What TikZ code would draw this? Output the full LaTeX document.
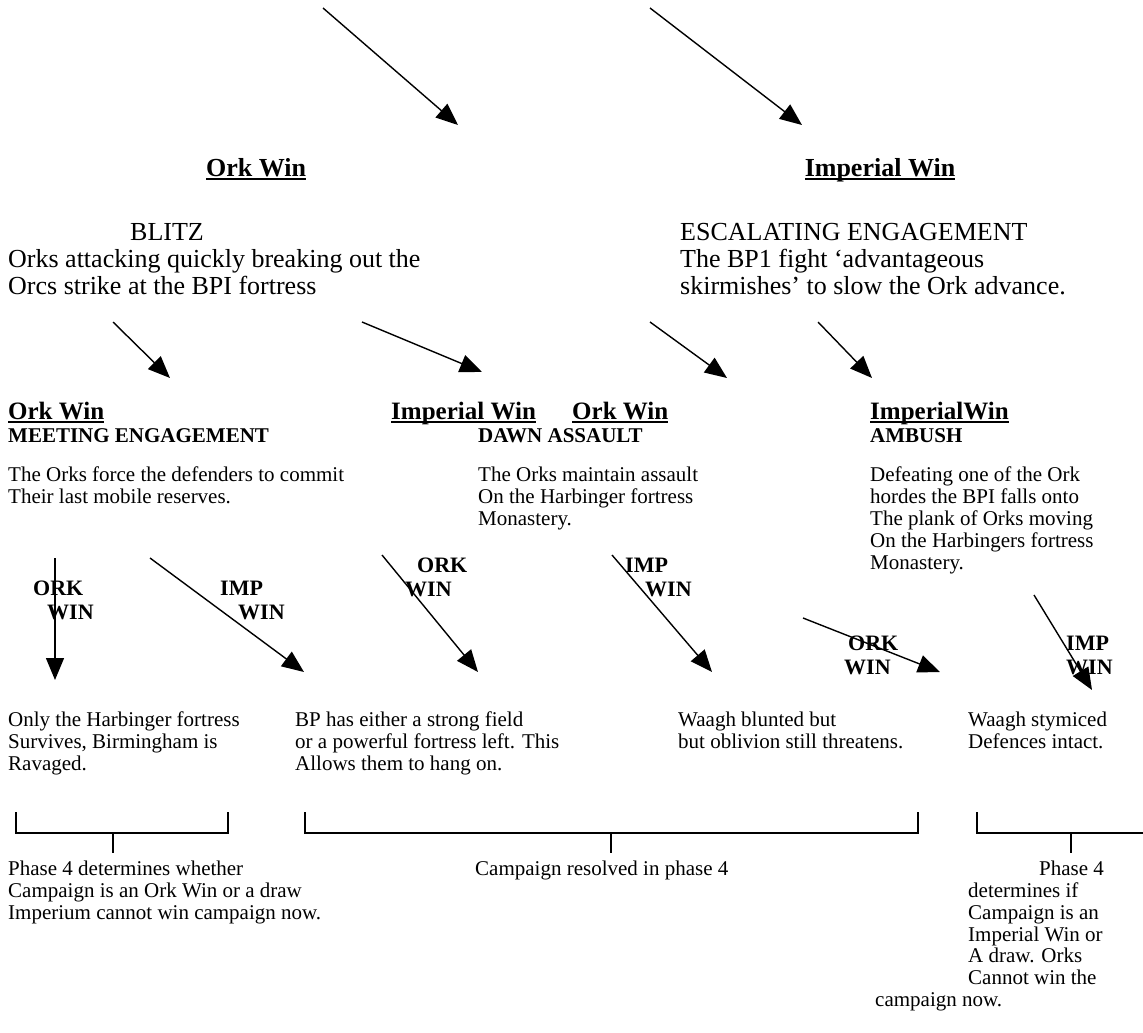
\documentclass[tikz,border=0pt]{standalone}
\usepackage{fontspec}
\setmainfont{Liberation Serif}
\usetikzlibrary{arrows.meta}
\newcommand{\winhead}[1]{\setbox0\hbox{#1}\rlap{\rule[-3.5pt]{\wd0}{2pt}}\box0}

\begin{document}
\begin{tikzpicture}[x=1pt, y=-1pt,
    every node/.style={inner sep=0pt},
    hdr/.style={font=\fontsize{26}{29}\selectfont\bfseries, anchor=base},
    subhdr/.style={font=\fontsize{25}{28}\selectfont\bfseries, anchor=base west},
    ttl/.style={font=\fontsize{21}{24}\selectfont\bfseries, anchor=base west},
    big/.style={font=\fontsize{26}{27}\selectfont, align=left, anchor=north west},
    txt/.style={font=\fontsize{21}{21.8}\selectfont, align=left, anchor=north west},
    win/.style={font=\fontsize{22}{24}\selectfont\bfseries, align=left, anchor=north west},
    arr/.style={-{Triangle[length=22pt, width=18pt]}, line width=1.4pt},
    brk/.style={line width=1.1pt}
]
    \useasboundingbox (0,0) rectangle (1143,1033);

    \node[hdr] (orkwin) at (256,176) {\winhead{Ork Win}};
    \node[hdr] (impwin) at (880,176) {\winhead{Imperial Win}};
    \node[big] (blitz) at (8,223)
        {\hspace*{122pt}BLITZ\\Orks attacking quickly breaking out the\\Orcs strike at the BPI fortress};
    \node[big] (escal) at (680,223)
        {ESCALATING ENGAGEMENT\\The BP1 fight ‘advantageous\\skirmishes’ to slow the Ork advance.};

    \node[subhdr] (meetwin) at (8,419)   {\winhead{Ork Win}};
    \node[subhdr] (dawnimp) at (391,419) {\winhead{Imperial Win}};
    \node[subhdr] (dawnork) at (572,419) {\winhead{Ork Win}};
    \node[subhdr] (ambwin)  at (870,419) {\winhead{ImperialWin}};
    \node[ttl] (meet) at (8,442)   {MEETING ENGAGEMENT};
    \node[ttl] (dawn) at (478,442) {DAWN ASSAULT};
    \node[ttl] (amb)  at (870,442) {AMBUSH};
    \node[txt] (meettxt) at (8,467)
        {The Orks force the defenders to commit\\Their last mobile reserves.};
    \node[txt] (dawntxt) at (478,467)
        {The Orks maintain assault\\On the Harbinger fortress\\Monastery.};
    \node[txt] (ambtxt) at (870,467)
        {Defeating one of the Ork\\hordes the BPI falls onto\\The plank of Orks moving\\On the Harbingers fortress\\Monastery.};

    \node[win] (win1) at (33,581)   {ORK\\\hspace*{14pt}WIN};
    \node[win] (win2) at (220,581)  {IMP\\\hspace*{18pt}WIN};
    \node[win] (win3) at (405,558)  {\hspace*{12pt}ORK\\WIN};
    \node[win] (win4) at (625,558)  {IMP\\\hspace*{20pt}WIN};
    \node[win] (win5) at (844,636)  {\hspace*{4pt}ORK\\WIN};
    \node[win] (win6) at (1066,636) {IMP\\WIN};

    \node[txt] (res1) at (8,712)   {Only the Harbinger fortress\\Survives, Birmingham is\\Ravaged.};
    \node[txt] (res2) at (295,712) {BP has either a strong field\\or a powerful fortress left. This\\Allows them to hang on.};
    \node[txt] (res3) at (678,712) {Waagh blunted but\\but oblivion still threatens.};
    \node[txt] (res4) at (968,712) {Waagh stymiced\\Defences intact.};

    \node[txt] (phase1) at (8,861)
        {Phase 4 determines whether\\Campaign is an Ork Win or a draw\\Imperium cannot win campaign now.};
    \node[txt] (phase2) at (475,861) {Campaign resolved in phase 4};
    \node[txt] (phase3) at (968,861)
        {\hspace*{71pt}Phase 4\\determines if\\Campaign is an\\Imperial Win or\\A draw. Orks\\Cannot win the\\\hspace*{-93pt}campaign now.};

    \foreach \n/\xa/\ya/\xb/\yb in {t1/323/8/458/125, t2/650/8/802/125,
        m1/113/322/170/378, m2/362/322/482/372, m3/650/322/727/378, m4/818/322/872/378,
        r1/55/558/55/680, r2/150/558/304/672, r3/382/555/478/672,
        r4/612/555/712/672, r5/803/618/940/672, r6/1034/595/1092/690} {
        \coordinate (\n s) at (\xa,\ya);
        \coordinate (\n e) at (\xb,\yb);
        \draw[arr] (\n s) -- (\n e);
    }

    \coordinate (b1l) at (16,812);  \coordinate (b1r) at (228,812);  \coordinate (b1t) at (113,833);
    \coordinate (b2l) at (305,812); \coordinate (b2r) at (918,812);  \coordinate (b2t) at (611,833);
    \coordinate (b3l) at (977,812); \coordinate (b3r) at (1143,833); \coordinate (b3t) at (1071,833);
    \draw[brk] (b1l) -- ++(0,21) -| (b1r);
    \draw[brk] (b2l) -- ++(0,21) -| (b2r);
    \draw[brk] (b3l) -- ++(0,21) -- (b3r);
    \draw[brk] (b1t) -- ++(0,20);
    \draw[brk] (b2t) -- ++(0,20);
    \draw[brk] (b3t) -- ++(0,20);
\end{tikzpicture}
\end{document}
